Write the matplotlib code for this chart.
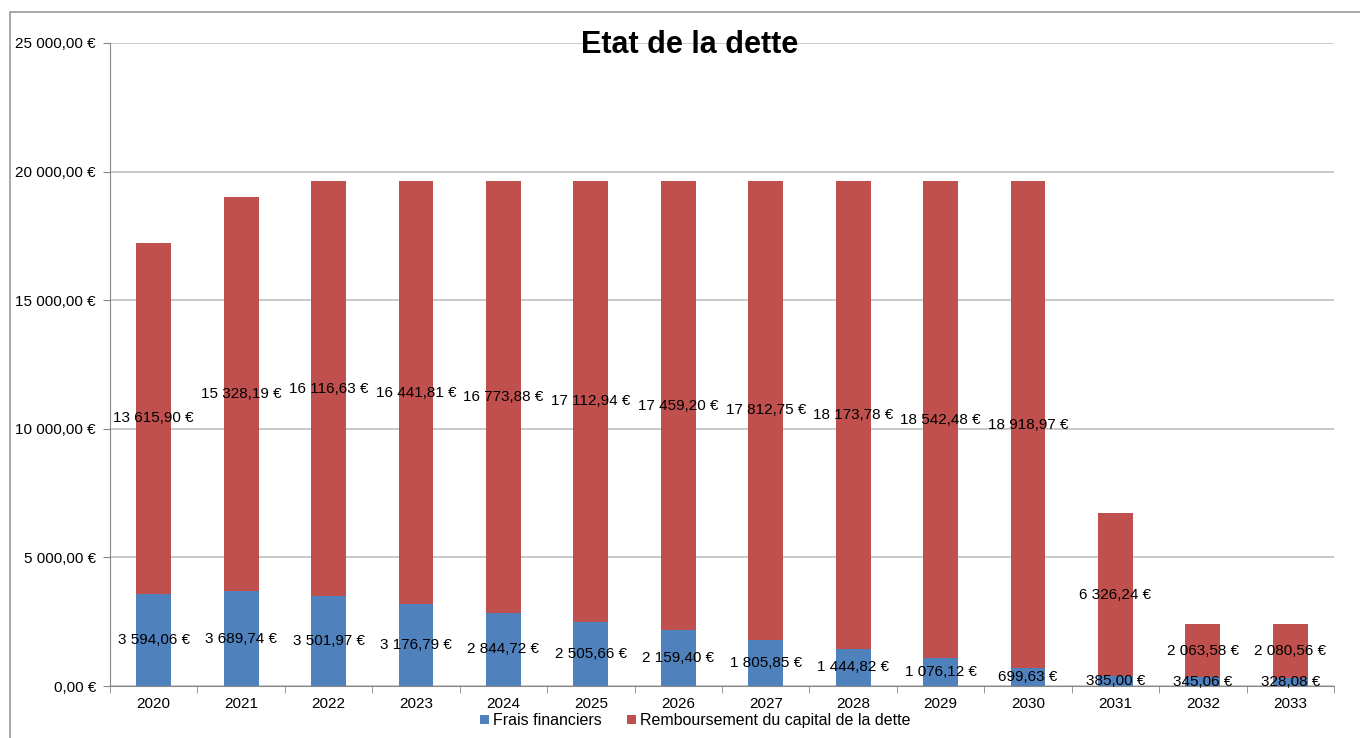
import numpy as np
import matplotlib.pyplot as plt
from matplotlib.patches import Rectangle
from matplotlib.ticker import FuncFormatter

plt.rcParams['font.family'] = ['Liberation Sans', 'DejaVu Sans']

years = ['2020', '2021', '2022', '2023', '2024', '2025', '2026',
         '2027', '2028', '2029', '2030', '2031', '2032', '2033']
frais = [3594.06, 3689.74, 3501.97, 3176.79, 2844.72, 2505.66, 2159.40,
         1805.85, 1444.82, 1076.12, 699.63, 385.00, 345.06, 328.08]
rembourse = [13615.90, 15328.19, 16116.63, 16441.81, 16773.88, 17112.94,
             17459.20, 17812.75, 18173.78, 18542.48, 18918.97, 6326.24,
             2063.58, 2080.56]
y_ticks = [0, 5000, 10000, 15000, 20000, 25000]

BLUE = '#4F81BD'
RED = '#C0504D'
FS = 11


def euro(v, pos=None):
    # French number format: "13 615,90 €"
    s = f'{v:,.2f}'.replace(',', ' ').replace('.', ',')
    return s + ' €'


fig = plt.figure(figsize=(13.6, 7.38), dpi=100)
ax = fig.add_axes([110 / 1360, 1 - 686 / 738, 1224 / 1360, 643 / 738])

x = np.arange(len(years))
frais = np.array(frais)
rembourse = np.array(rembourse)

ax.bar(x, frais, width=0.4, color=BLUE, label='Frais financiers', zorder=2)
ax.bar(x, rembourse, width=0.4, bottom=frais, color=RED,
       label='Remboursement du capital de la dette', zorder=2)

# data labels centered in each segment
for i in range(len(years)):
    ax.text(x[i], frais[i] / 2, euro(frais[i]), ha='center', va='center',
            fontsize=FS, color='black', zorder=3)
    ax.text(x[i], frais[i] + rembourse[i] / 2, euro(rembourse[i]),
            ha='center', va='center', fontsize=FS, color='black', zorder=3)

ax.set_xlim(-0.5, len(years) - 0.5)
ax.set_ylim(0, 25000)
ax.set_yticks(y_ticks)
ax.yaxis.set_major_formatter(FuncFormatter(euro))
ax.set_xticks(x)
ax.set_xticklabels(years)
ax.set_xticks(np.arange(-0.5, len(years)), minor=True)
ax.tick_params(axis='x', which='major', length=0, labelsize=FS, pad=8)
ax.tick_params(axis='x', which='minor', length=5, color='#888888')
ax.tick_params(axis='y', length=5, color='#888888', labelsize=FS, pad=5)

ax.grid(axis='y', color='#c0c0c0', linewidth=1.2, zorder=0)
for side in ['top', 'right']:
    ax.spines[side].set_visible(False)
for side in ['left', 'bottom']:
    ax.spines[side].set_color('#888888')

fig.text(690 / 1360, 1 - 45 / 738, 'Etat de la dette', ha='center',
         va='center', fontsize=22, fontweight='bold')

ax.legend(loc='center', bbox_to_anchor=(0.478, -0.054), ncol=2, frameon=False,
          fontsize=11.5, handlelength=0.55, handleheight=0.55,
          handletextpad=0.25, columnspacing=1.6, borderpad=0)

# outer chart border (only left and top edges visible in the frame)
fig.patches.append(Rectangle((9.5 / 1360, -0.1), 1.2, 1 - 12.5 / 738 + 0.1,
                             transform=fig.transFigure, fill=False,
                             edgecolor='#999999', linewidth=1.2))

fig.savefig('out.png', dpi=100)
